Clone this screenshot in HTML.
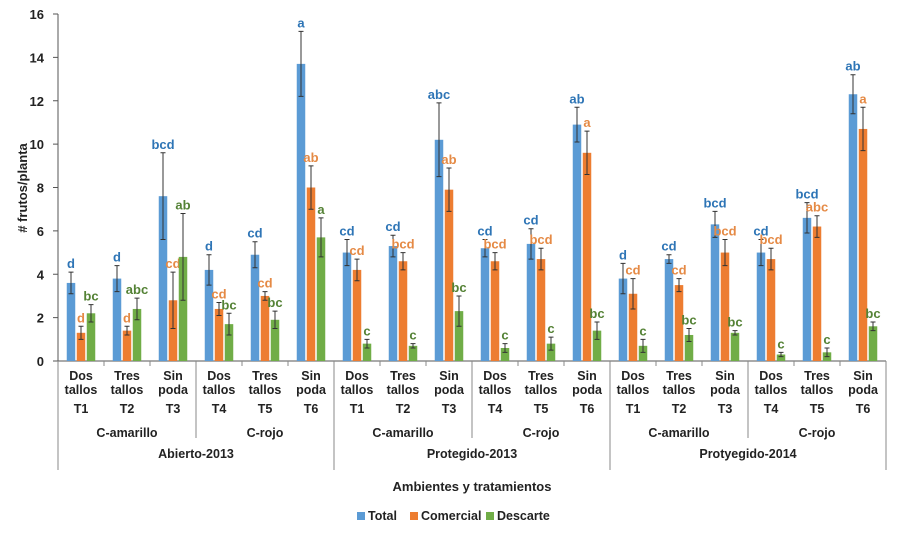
<!DOCTYPE html>
<html><head><meta charset="utf-8">
<style>
body{margin:0;background:#fff;}
svg{display:block;font-family:"Liberation Sans",Arial,sans-serif;font-weight:bold;}
</style></head>
<body>
<svg id="chart" width="900" height="542" viewBox="0 0 900 542"></svg>
<script>
const categories=["T1","T2","T3","T4","T5","T6","T1","T2","T3","T4","T5","T6","T1","T2","T3","T4","T5","T6"];
const catLine1=["Dos","Tres","Sin","Dos","Tres","Sin","Dos","Tres","Sin","Dos","Tres","Sin","Dos","Tres","Sin","Dos","Tres","Sin"];
const catLine2=["tallos","tallos","poda","tallos","tallos","poda","tallos","tallos","poda","tallos","tallos","poda","tallos","tallos","poda","tallos","tallos","poda"];
const subgroups=["C-amarillo","C-rojo","C-amarillo","C-rojo","C-amarillo","C-rojo"];
const groups=["Abierto-2013","Protegido-2013","Protyegido-2014"];
const totalVals=[3.6,3.8,7.6,4.2,4.9,13.7,5.0,5.3,10.2,5.2,5.4,10.9,3.8,4.7,6.3,5.0,6.6,12.3];
const totalErr=[0.5,0.6,2.0,0.7,0.6,1.5,0.6,0.5,1.7,0.4,0.7,0.8,0.7,0.2,0.6,0.6,0.7,0.9];
const comVals=[1.3,1.4,2.8,2.4,3.0,8.0,4.2,4.6,7.9,4.6,4.7,9.6,3.1,3.5,5.0,4.7,6.2,10.7];
const comErr=[0.3,0.2,1.3,0.3,0.2,1.0,0.5,0.4,1.0,0.4,0.5,1.0,0.7,0.3,0.6,0.5,0.5,1.0];
const desVals=[2.2,2.4,4.8,1.7,1.9,5.7,0.8,0.7,2.3,0.6,0.8,1.4,0.7,1.2,1.3,0.3,0.4,1.6];
const desErr=[0.4,0.5,2.0,0.5,0.4,0.9,0.2,0.1,0.7,0.2,0.3,0.4,0.3,0.3,0.1,0.1,0.2,0.2];
const totalLbl=["d","d","bcd","d","cd","a","cd","cd","abc","cd","cd","ab","d","cd","bcd","cd","bcd","ab"];
const comLbl=["d","d","cd","cd","cd","ab","cd","bcd","ab","bcd","bcd","a","cd","cd","bcd","bcd","abc","a"];
const desLbl=["bc","abc","ab","bc","bc","a","c","c","bc","c","c","bc","c","bc","bc","c","c","bc"];
const yTicks=[0,2,4,6,8,10,12,14,16];

const svg=document.getElementById('chart');
const NS='http://www.w3.org/2000/svg';
const X0=58,GW=46,Y0=361,Y1=14,YMAX=16;
const y=v=>Y0-(v/YMAX)*(Y0-Y1);
const gx=i=>X0+GW*i+GW/2;
function mk(tag,at,txt){const e=document.createElementNS(NS,tag);for(const k in at)e.setAttribute(k,at[k]);if(txt!==undefined)e.textContent=txt;svg.appendChild(e);return e;}

let ax=mk('line',{x1:X0,y1:Y1,x2:X0,y2:Y0,stroke:'#555','stroke-width':1});


yTicks.forEach(t=>{
  let l=mk('line',{x1:X0-5,y1:y(t),x2:X0,y2:y(t),stroke:'#555'});
  
  
  let tx=mk('text',{x:X0-14,y:y(t)+5,'text-anchor':'end','font-size':13,fill:'#222'},t);
  
  
});
let yt=mk('text',{x:27,y:188,'text-anchor':'middle','font-size':13,fill:'#222',transform:'rotate(-90 27 188)'},'# frutos/planta');


let xa=mk('line',{x1:X0,y1:Y0,x2:X0+GW*18,y2:Y0,stroke:'#555'});


for(let i=0;i<=18;i++){
  const xx=X0+GW*i;let y2=Y0+5;
  if(i%6==0)y2=470;else if(i%3==0)y2=438;
  let l=mk('line',{x1:xx,y1:Y0,x2:xx,y2:y2,stroke:'#888'});
  
  
}
const series=[
 {vals:totalVals,err:totalErr,lbl:totalLbl,col:'#5b9bd5',tc:'#2e75b6',name:'total'},
 {vals:comVals,err:comErr,lbl:comLbl,col:'#ed7d31',tc:'#e58a45',name:'comercial'},
 {vals:desVals,err:desErr,lbl:desLbl,col:'#70ad47',tc:'#548235',name:'descarte'}];
const BW=8.5;
categories.forEach((c,i)=>{
  series.forEach((s,k)=>{
    const cx=gx(i)+(k-1)*10;
    const v=s.vals[i],e=s.err[i];
    let r=mk('rect',{x:cx-BW/2,y:y(v),width:BW,height:Y0-y(v),fill:s.col});
    
    
    let el=mk('path',{d:`M${cx} ${y(v+e)}V${y(v-e)}M${cx-2.5} ${y(v+e)}H${cx+2.5}M${cx-2.5} ${y(v-e)}H${cx+2.5}`,stroke:'#333','stroke-width':1,fill:'none'});
    
    
    let t=mk('text',{x:cx,y:y(v+e)-4,'text-anchor':'middle','font-size':13,fill:s.tc},s.lbl[i]);
    
    
  });
  [[catLine1[i],380],[catLine2[i],394],[c,413]].forEach(([s,yy])=>{
    let t=mk('text',{x:gx(i),y:yy,'text-anchor':'middle','font-size':12.5,fill:'#222'},s);
    
    
  });
});
subgroups.forEach((s,j)=>{
  let t=mk('text',{x:X0+GW*3*j+GW*1.5,y:437,'text-anchor':'middle','font-size':12.5,fill:'#222'},s);
  
  
});
groups.forEach((s,j)=>{
  let t=mk('text',{x:X0+GW*6*j+GW*3,y:458,'text-anchor':'middle','font-size':12.5,fill:'#222'},s);
  
  
});
let xt=mk('text',{x:472,y:491,'text-anchor':'middle','font-size':13,fill:'#222'},'Ambientes y tratamientos');


const leg=[['Total','#5b9bd5',357],['Comercial','#ed7d31',410],['Descarte','#70ad47',486]];
leg.forEach(([n,c,lx])=>{
  let r=mk('rect',{x:lx,y:512,width:8,height:8,fill:c});
  
  
  let t=mk('text',{x:lx+11,y:520,'font-size':12.5,fill:'#222'},n);
  
  
});
</script>
</body></html>
